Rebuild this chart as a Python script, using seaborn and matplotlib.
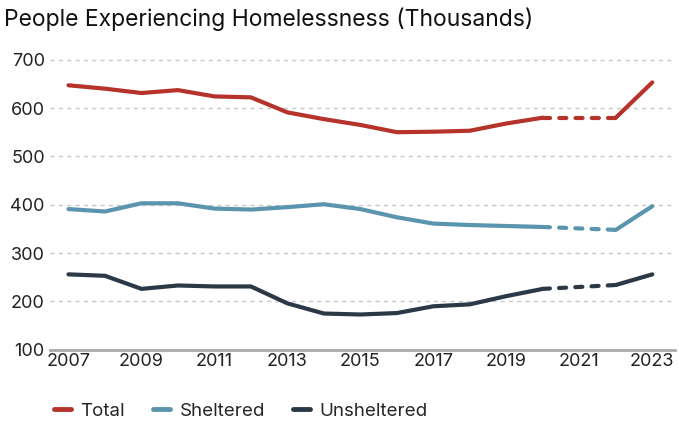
import matplotlib
matplotlib.use("Agg")
import matplotlib.pyplot as plt
import seaborn as sns
import pandas as pd
from matplotlib.lines import Line2D

years = [2007, 2008, 2009, 2010, 2011, 2012, 2013, 2014, 2015, 2016, 2017, 2018, 2019, 2020, 2022, 2023]
total = [647, 640, 631, 637, 624, 622, 591, 577, 565, 550, 551, 553, 568, 580, 580, 653]
sheltered = [391, 386, 403, 403, 392, 390, 395, 401, 391, 374, 361, 358, 356, 354, 348, 397]
unsheltered = [256, 253, 226, 233, 231, 231, 196, 175, 173, 176, 190, 194, 211, 226, 234, 256]
series_names = ["Total", "Sheltered", "Unsheltered"]
colors = ["#b5332a", "#5a95ad", "#2b3947"]
yticks = [100, 200, 300, 400, 500, 600, 700]
xticks = [2007, 2009, 2011, 2013, 2015, 2017, 2019, 2021, 2023]

sns.set_theme(style="white")
plt.rcParams['font.family'] = ['Inter', 'DejaVu Sans']

rows = []
for name, vals in zip(series_names, [total, sheltered, unsheltered]):
    for y, v in zip(years, vals):
        rows.append({"year": y, "value": v, "series": name})
df = pd.DataFrame(rows)

fig = plt.figure(figsize=(6.79, 4.24), dpi=100)
ax = fig.add_axes([0.074, 0.175, 0.92, 0.69])

palette = dict(zip(series_names, colors))
seg1 = df[df.year <= 2020]
seg2 = df[(df.year >= 2020) & (df.year <= 2022)]
seg3 = df[df.year >= 2022]
for seg, ls in [(seg1, "-"), (seg2, (0, (1.7, 2.2))), (seg3, "-")]:
    for name in series_names:
        d = seg[seg.series == name]
        sns.lineplot(data=d, x="year", y="value", ax=ax, color=palette[name],
                     linewidth=3, linestyle=ls, legend=False,
                     solid_capstyle="round", dash_capstyle="round")

ax.set_xlim(2006.5, 2023.62)
ax.set_ylim(100, 705)
ax.set_yticks(yticks)
ax.set_xticks(xticks)
ax.set_xticklabels([str(x) for x in xticks])
ax.set_xlabel("")
ax.set_ylabel("")
for s in ["top", "right", "left"]:
    ax.spines[s].set_visible(False)
ax.spines["bottom"].set_color("#aaaaaa")
ax.spines["bottom"].set_linewidth(2)
ax.yaxis.grid(True, linestyle=(0, (3, 3)), color="#c8c8c8", linewidth=1)
ax.set_axisbelow(True)
ax.tick_params(axis="both", labelsize=13, colors="#222222", length=0, pad=4)
ax.tick_params(axis="x", pad=2)

fig.text(0.006, 0.955, "People Experiencing Homelessness (Thousands)", fontsize=16.5,
         color="#111111", va="center", ha="left")

handles = [Line2D([0], [0], color=c, linewidth=3.5, solid_capstyle="round") for c in colors]
fig.legend(handles, series_names, loc="center left", bbox_to_anchor=(0.055, 0.03),
           ncol=3, frameon=False, fontsize=13.5, handlelength=0.9, handletextpad=0.5,
           columnspacing=1.5)

fig.savefig("out.png", dpi=100)
